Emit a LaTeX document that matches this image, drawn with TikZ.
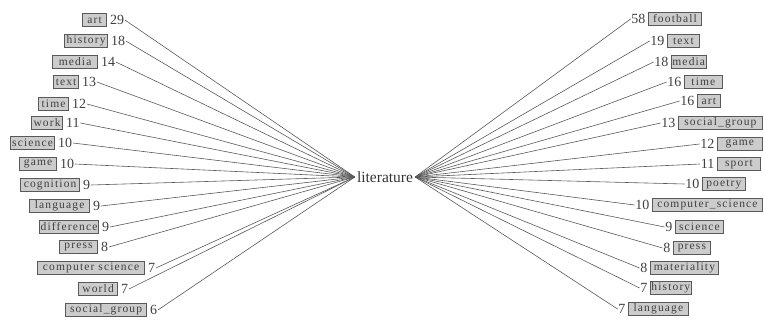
\documentclass[tikz,border=0pt]{standalone}
\usepackage{fontspec}
\setmainfont{Liberation Serif}
\newfontfamily\boxfont[LetterSpace=10]{Liberation Serif}
\begin{document}
\begin{tikzpicture}[x=1pt,y=-1pt,
  tagbox/.style={draw=black!65, fill=black!20, text=black!75,
    font=\boxfont\fontsize{11.5}{12}\selectfont,
    inner xsep=1pt, inner ysep=0pt, minimum height=12.5pt, line width=0.8pt},
  count/.style={font=\fontsize{14}{15}\selectfont, text=black!75, inner sep=0.5pt},
  link/.style={draw=black!65, line width=0.6pt}]
\useasboundingbox (0,0) rectangle (765,335);
\node[font=\fontsize{15.5}{16}\selectfont, text=black!80, inner sep=2pt] (lit) at (385,177) {literature};
% left side
\foreach \w/\n/\bl/\br/\y [count=\i] in {
  art/29/83/107/20,
  history/18/65/108/41,
  media/14/53/98/62,
  text/13/54/79/82,
  time/12/39/69/104,
  work/11/32/63/123,
  science/10/11/55/143,
  game/10/20/57/164,
  cognition/9/21/80/185,
  language/9/30/90/206,
  difference/9/40/99/227,
  press/8/60/98/247,
  computer science/7/38/145/268,
  world/7/79/118/289,
  social\_group/6/66/147/310}{
  \node[tagbox, minimum width={\br-\bl}, anchor=east] (L\i) at (\br,\y) {\w};
  \node[count, anchor=west] (LN\i) at (\br+2.5,\y) {\n};
  \draw[link] (LN\i.east) -- (lit.west);
}
% right side
\foreach \w/\n/\bl/\br/\y [count=\i] in {
  football/58/648/701/19,
  text/19/667/699/41,
  media/18/671/703/62,
  time/16/684/722/82,
  art/16/697/720/101,
  social\_group/13/678/762/123,
  game/12/717/762/144,
  sport/11/717/760/164,
  poetry/10/702/745/184,
  computer\_science/10/652/762/205,
  science/9/675/723/227,
  press/8/673/710/248,
  materiality/8/650/718/268,
  history/7/650/688/288,
  language/7/628/688/309}{
  \node[tagbox, minimum width={\br-\bl}, anchor=west] (R\i) at (\bl,\y) {\w};
  \node[count, anchor=east] (RN\i) at (\bl-2,\y) {\n};
  \draw[link] (RN\i.west) -- (lit.east);
}
\end{tikzpicture}
\end{document}
